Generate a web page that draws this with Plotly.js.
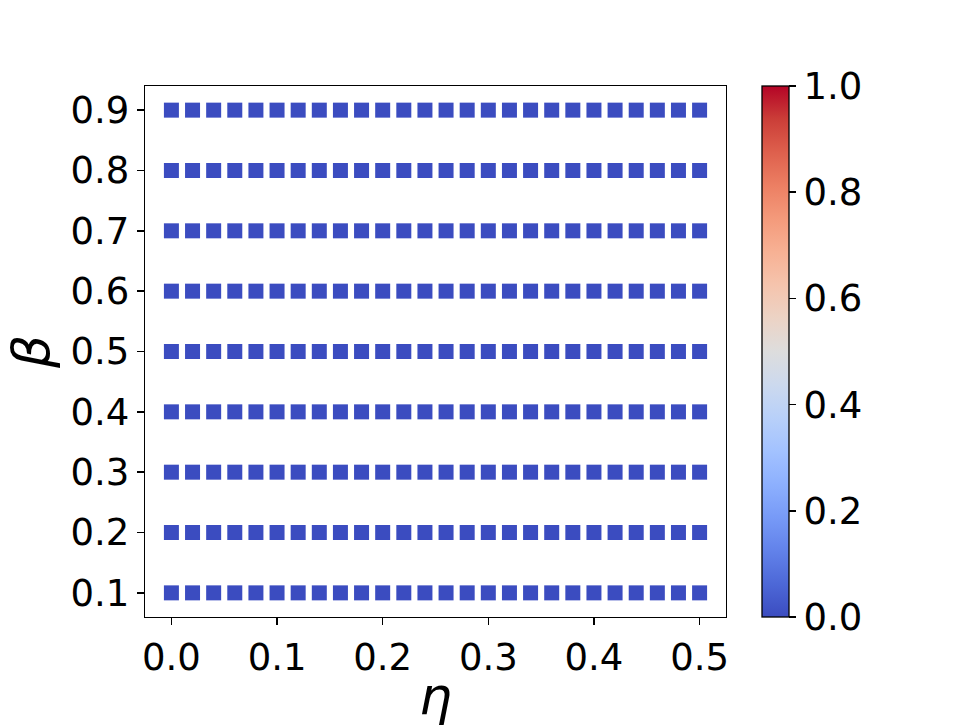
<!DOCTYPE html>
<html>
<head>
<meta charset="utf-8">
<script src="https://cdn.plot.ly/plotly-3.0.1.min.js"></script>
<style>html,body{margin:0;padding:0;background:#fff;}#chart{width:968px;height:726px;}</style>
</head>
<body>
<div id="chart"></div>
<script>
// eta (x) grid values
const etaValues = [0.00,0.02,0.04,0.06,0.08,0.10,0.12,0.14,0.16,0.18,0.20,0.22,0.24,0.26,0.28,0.30,0.32,0.34,0.36,0.38,0.40,0.42,0.44,0.46,0.48,0.50];
// beta (y) grid values
const betaValues = [0.1,0.2,0.3,0.4,0.5,0.6,0.7,0.8,0.9];
// colour value for every (beta, eta) cell: one row per beta
const cellValues = [
  [0,0,0,0,0,0,0,0,0,0,0,0,0,0,0,0,0,0,0,0,0,0,0,0,0,0],
  [0,0,0,0,0,0,0,0,0,0,0,0,0,0,0,0,0,0,0,0,0,0,0,0,0,0],
  [0,0,0,0,0,0,0,0,0,0,0,0,0,0,0,0,0,0,0,0,0,0,0,0,0,0],
  [0,0,0,0,0,0,0,0,0,0,0,0,0,0,0,0,0,0,0,0,0,0,0,0,0,0],
  [0,0,0,0,0,0,0,0,0,0,0,0,0,0,0,0,0,0,0,0,0,0,0,0,0,0],
  [0,0,0,0,0,0,0,0,0,0,0,0,0,0,0,0,0,0,0,0,0,0,0,0,0,0],
  [0,0,0,0,0,0,0,0,0,0,0,0,0,0,0,0,0,0,0,0,0,0,0,0,0,0],
  [0,0,0,0,0,0,0,0,0,0,0,0,0,0,0,0,0,0,0,0,0,0,0,0,0,0],
  [0,0,0,0,0,0,0,0,0,0,0,0,0,0,0,0,0,0,0,0,0,0,0,0,0,0]
];
const xTicks = [0.0,0.1,0.2,0.3,0.4,0.5];
const yTicks = [0.1,0.2,0.3,0.4,0.5,0.6,0.7,0.8,0.9];
const cbTicks = [0.0,0.2,0.4,0.6,0.8,1.0];

const coolwarm = [
 [0.0,'rgb(59,76,192)'],[0.0625,'rgb(77,104,215)'],[0.125,'rgb(98,130,234)'],[0.1875,'rgb(119,154,247)'],
 [0.25,'rgb(141,176,254)'],[0.3125,'rgb(163,194,255)'],[0.375,'rgb(184,208,249)'],[0.4375,'rgb(204,217,238)'],
 [0.5,'rgb(221,221,221)'],[0.5625,'rgb(236,211,197)'],[0.625,'rgb(245,196,173)'],[0.6875,'rgb(247,177,148)'],
 [0.75,'rgb(244,154,123)'],[0.8125,'rgb(236,127,99)'],[0.875,'rgb(222,96,77)'],[0.9375,'rgb(203,62,56)'],
 [1.0,'rgb(180,4,38)']
];

const xs = [], ys = [], cs = [];
betaValues.forEach((b, i) => {
  etaValues.forEach((e, j) => { xs.push(e); ys.push(b); cs.push(cellValues[i][j]); });
});

const tickFont = {family: 'DejaVu Sans', size: 37, color: '#000'};

const trace = {
  type: 'scatter', mode: 'markers', x: xs, y: ys,
  marker: {
    symbol: 'square', size: 15, color: cs, cmin: 0, cmax: 1, colorscale: coolwarm,
    line: {width: 0},
    colorbar: {
      x: 1.062, xanchor: 'left', xref: 'paper', thickness: 27, thicknessmode: 'pixels',
      len: 1, lenmode: 'fraction', y: 0.5, yanchor: 'middle', ypad: 0, xpad: 0,
      outlinewidth: 1.3, outlinecolor: '#000',
      tickmode: 'array', tickvals: cbTicks, ticktext: cbTicks.map(v => v.toFixed(1)),
      ticks: 'outside', ticklen: 7, tickwidth: 1.6, tickcolor: '#000',
      tickfont: tickFont
    }
  },
  hoverinfo: 'x+y'
};

const layout = {
  width: 968, height: 726,
  margin: {l: 145, r: 242, t: 86, b: 109},
  paper_bgcolor: '#fff', plot_bgcolor: '#fff',
  showlegend: false,
  xaxis: {
    range: [-0.025, 0.525], showgrid: false, zeroline: false,
    showline: true, linecolor: '#000', linewidth: 1.3, mirror: true,
    tickmode: 'array', tickvals: xTicks, ticktext: xTicks.map(v => v.toFixed(1)),
    ticks: 'outside', ticklen: 7, tickwidth: 1.6, tickcolor: '#000',
    tickfont: tickFont,
    title: {text: '<i>η</i>', font: {family: 'DejaVu Sans', size: 52, color: '#000'}, standoff: 4}
  },
  yaxis: {
    range: [0.06, 0.94], showgrid: false, zeroline: false,
    showline: true, linecolor: '#000', linewidth: 1.3, mirror: true,
    tickmode: 'array', tickvals: yTicks, ticktext: yTicks.map(v => v.toFixed(1)),
    ticks: 'outside', ticklen: 7, tickwidth: 1.6, tickcolor: '#000',
    tickfont: tickFont,
    title: {text: '<i>β</i>', font: {family: 'DejaVu Sans', size: 52, color: '#000'}, standoff: 4}
  }
};

Plotly.newPlot('chart', [trace], layout, {displayModeBar: false, staticPlot: true});
</script>
</body>
</html>
